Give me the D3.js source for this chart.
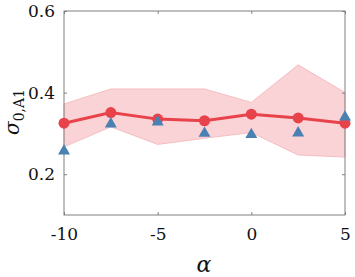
<!DOCTYPE html>
<html>
<head>
<meta charset="utf-8">
<script src="https://cdn.jsdelivr.net/npm/d3@7"></script>
<style>
  body { margin: 0; background: #fff; }
  text { font-family: "DejaVu Serif", "Liberation Serif", serif; fill: #111; }
</style>
</head>
<body>
<div id="chart"></div>
<script>
// data
let alphas = [-10, -7.5, -5, -2.5, 0, 2.5, 5];
let sigmaMean = [0.325, 0.351, 0.335, 0.331, 0.347, 0.338, 0.325];
let bandUpper = [0.372, 0.409, 0.409, 0.409, 0.376, 0.468, 0.400];
let bandLower = [0.267, 0.316, 0.273, 0.288, 0.302, 0.247, 0.242];
let sigmaRef = [0.257, 0.323, 0.328, 0.300, 0.297, 0.301, 0.340];
let xTicks = [-10, -5, 0, 5];
let yTicks = [0.2, 0.4, 0.6];

let width = 355, height = 277;
let margin = {top: 11, right: 10, bottom: 62, left: 64};
let w = width - margin.left - margin.right,
    h = height - margin.top - margin.bottom;

let svg = d3.select("#chart").append("svg")
    .attr("width", width)
    .attr("height", height);

let g = svg.append("g").attr("transform", "translate(" + margin.left + "," + margin.top + ")");

let x = d3.scaleLinear().domain([-10, 5]).range([0, w]);
let y = d3.scaleLinear().domain([0.1, 0.6]).range([h, 0]);

let rows = alphas.map(function (a, i) {
    return {a: a, m: sigmaMean[i], hi: bandUpper[i], lo: bandLower[i], r: sigmaRef[i]};
});

// shaded band
let area = d3.area()
    .x(function (d) { return x(d.a); })
    .y0(function (d) { return y(d.lo); })
    .y1(function (d) { return y(d.hi); });

g.append("path")
    .datum(rows)
    .attr("d", area)
    .style("fill", "#f9d3d6")
    .style("stroke", "#f4b3b8")
    .style("stroke-width", 0.8);

// box + ticks
let tickColor = "#808080";
let serif = "'DejaVu Serif', 'Liberation Serif', serif";
g.append("rect")
    .attr("width", w).attr("height", h)
    .style("fill", "none")
    .style("stroke", tickColor)
    .style("stroke-width", 1);

let xAxis = g.append("g").attr("transform", "translate(0," + h + ")")
    .call(d3.axisBottom(x).tickValues(xTicks).tickSizeInner(-3).tickSizeOuter(0).tickPadding(13)
        .tickFormat(d3.format("d")));
let xTop = g.append("g")
    .call(d3.axisTop(x).tickValues(xTicks).tickSizeInner(-3).tickSizeOuter(0).tickFormat(""));
let yAxis = g.append("g")
    .call(d3.axisLeft(y).tickValues(yTicks).tickSizeInner(-3).tickSizeOuter(0).tickPadding(9)
        .tickFormat(d3.format(".1f")));
let yRight = g.append("g").attr("transform", "translate(" + w + ",0)")
    .call(d3.axisRight(y).tickValues(yTicks).tickSizeInner(-3).tickSizeOuter(0).tickFormat(""));

[xAxis, xTop, yAxis, yRight].forEach(function (a) {
    a.attr("font-family", serif);
    a.select(".domain").remove();
    a.selectAll("line").style("stroke", tickColor);
    a.selectAll("text")
        .style("font-family", serif)
        .style("font-size", "17px")
        .style("fill", "#111");
});
xAxis.selectAll("text").text(function (d) { return d < 0 ? "-" + Math.abs(d) : d; });

// mean line
let line = d3.line()
    .x(function (d) { return x(d.a); })
    .y(function (d) { return y(d.m); });

g.append("path")
    .datum(rows)
    .attr("d", line)
    .style("fill", "none")
    .style("stroke", "#e8434b")
    .style("stroke-width", 3);

g.selectAll(".dot")
    .data(rows)
    .enter().append("circle")
    .attr("class", "dot")
    .attr("cx", function (d) { return x(d.a); })
    .attr("cy", function (d) { return y(d.m); })
    .attr("r", 5.5)
    .style("fill", "#e8434b");

// reference triangles
let tri = d3.symbol().type(d3.symbolTriangle).size(62);
g.selectAll(".tri")
    .data(rows)
    .enter().append("path")
    .attr("class", "tri")
    .attr("d", tri)
    .attr("transform", function (d) { return "translate(" + x(d.a) + "," + y(d.r) + ")"; })
    .style("fill", "#4b80b2");

// axis labels
svg.append("text")
    .attr("x", 204)
    .attr("y", 272)
    .attr("text-anchor", "middle")
    .style("font-family", serif)
    .style("font-size", "22px")
    .style("font-style", "italic")
    .text("α");

let yl = svg.append("text")
    .attr("transform", "translate(19,112) rotate(-90)")
    .attr("text-anchor", "middle")
    .style("font-family", serif)
    .style("font-size", "20px");
yl.append("tspan").style("font-style", "italic").text("σ");
yl.append("tspan").attr("dy", 5).style("font-size", "14px").text("0,A1");
</script>
</body>
</html>
